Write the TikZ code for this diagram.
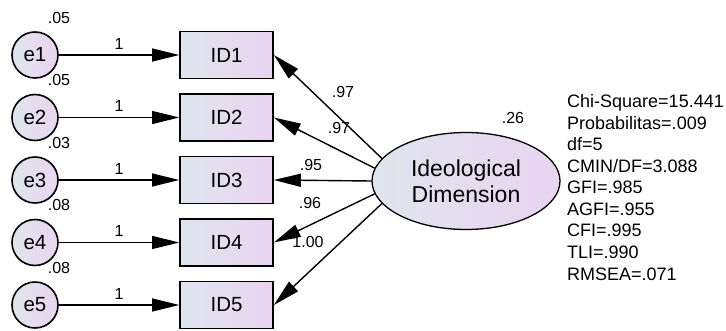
\documentclass[tikz,border=0pt]{standalone}
\usepackage{fontspec}
\setmainfont{Liberation Sans}
\usetikzlibrary{shapes.geometric, arrows.meta, positioning}

\definecolor{fillL}{HTML}{DFE5EE}
\definecolor{fillR}{HTML}{EAD4F1}

\tikzset{
  item/.style={draw, line width=1.7pt, left color=fillL, right color=fillR,
    minimum width=93pt, minimum height=47pt, inner sep=0pt,
    font=\fontsize{20.5}{24}\selectfont},
  err/.style={circle, draw, line width=1.6pt, left color=fillL, right color=fillR,
    minimum size=46pt, inner sep=0pt, font=\fontsize{20.5}{24}\selectfont},
  factor/.style={ellipse, draw, line width=1.3pt, left color=fillL, right color=fillR,
    minimum width=188pt, minimum height=97pt, inner sep=0pt, align=center,
    font=\fontsize{23}{26}\selectfont},
  est/.style={inner sep=0pt, font=\fontsize{16}{18}\selectfont},
  reg/.style={-{Triangle[length=27pt, width=13pt]}, line width=1.4pt},
}

\begin{document}
\begin{tikzpicture}[x=1pt, y=-1pt]
        \useasboundingbox (0,0) rectangle (726,331);
        % error terms
        \node[err] (e1) at (35,55) {e1};
        \node[err] (e2) at (35,117.5) {e2};
        \node[err] (e3) at (35,180) {e3};
        \node[err] (e4) at (35,242.5) {e4};
        \node[err] (e5) at (35,305) {e5};
        % observed items
        \node[item] (ID1) at (226.5,55) {ID1};
        \node[item] (ID2) at (226.5,117.5) {ID2};
        \node[item] (ID3) at (226.5,180) {ID3};
        \node[item] (ID4) at (226.5,242.5) {ID4};
        \node[item] (ID5) at (226.5,305) {ID5};
        % latent factor
        \node[factor] (ideo) at (466,181) {Ideological\\Dimension};
        % variances
        \node[est] (v1) at (59,17.5) {.05};
        \node[est] (v2) at (59,80) {.05};
        \node[est] (v3) at (59,142.5) {.03};
        \node[est] (v4) at (59,205) {.08};
        \node[est] (v5) at (59,267.5) {.08};
        \node[est] (v0) at (513,118) {.26};
        % error paths
        \draw[reg] (e1) to node[est, above=5pt] {1} (ID1);
        \draw[reg] (e2) to node[est, above=5pt] {1} (ID2);
        \draw[reg] (e3) to node[est, above=5pt] {1} (ID3);
        \draw[reg] (e4) to node[est, above=5pt] {1} (ID4);
        \draw[reg] (e5) to node[est, above=5pt] {1} (ID5);
        % loadings
        \draw[reg] (ideo.165) to (ID1.east);
        \draw[reg] (ideo.172) to (ID2.east);
        \draw[reg] (ideo.180) to (ID3.east);
        \draw[reg] (ideo.188) to (ID4.east);
        \draw[reg] (ideo.195) to (ID5.east);
        \node[est] (l1) at (343,92) {.97};
        \node[est] (l2) at (339,128) {.97};
        \node[est] (l3) at (311,165) {.95};
        \node[est] (l4) at (310,203) {.96};
        \node[est] (l5) at (308,242) {1.00};
        % fit indices
        \foreach \t [count=\i] in {Chi-Square=15.441, Probabilitas=.009, df=5,
            CMIN/DF=3.088, GFI=.985, AGFI=.955, CFI=.995, TLI=.990, RMSEA=.071}
          \node[anchor=base west, inner sep=0pt, font=\fontsize{18}{21}\selectfont]
            (fit\i) at (567,{108+21.5*(\i-1)}) {\t};
    \end{tikzpicture}
\end{document}
